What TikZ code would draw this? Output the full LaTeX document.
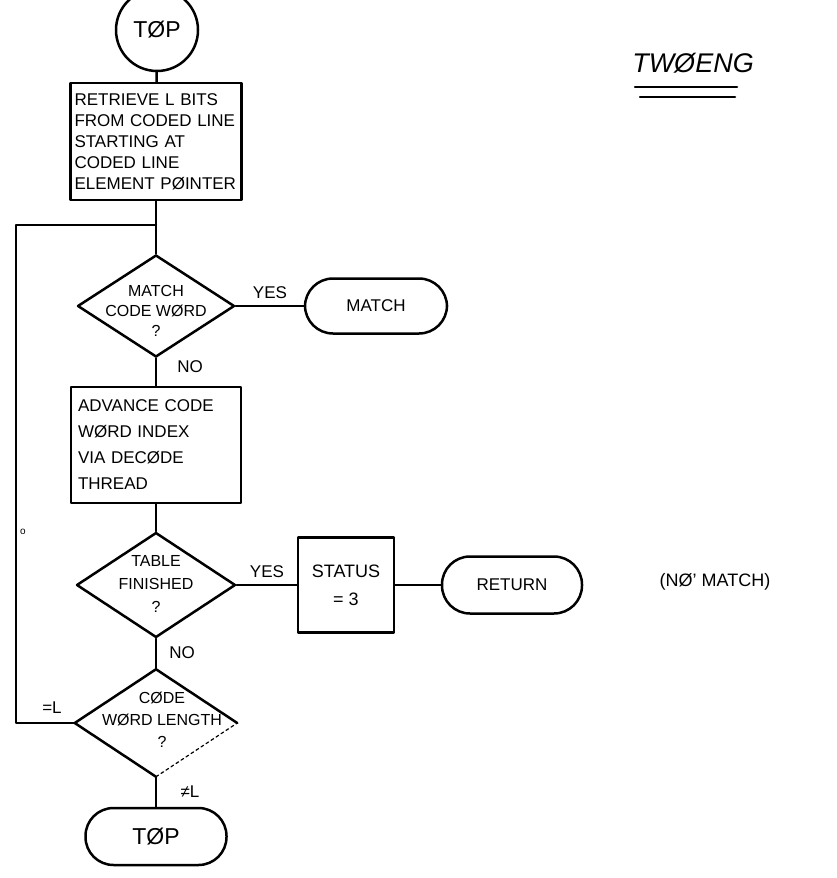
\documentclass[tikz,border=0pt]{standalone}
\usepackage{fontspec}
\setmainfont{Liberation Sans}
\usetikzlibrary{shapes.geometric}
\begin{document}
\begin{tikzpicture}[x=1pt,y=-1pt,
  line width=2.5pt, line join=round, line cap=round,
  box/.style={draw, rectangle, inner sep=0pt, font=\fontsize{17}{21}\selectfont},
  dia/.style={draw, diamond, inner sep=0pt},
  term/.style={draw, rectangle, rounded corners=28pt, minimum width=141pt, minimum height=57pt, font=\fontsize{17}{21}\selectfont},
  lbl/.style={font=\fontsize{17}{20}\selectfont, inner sep=0pt},
  dtext/.style={align=center, inner sep=0pt},
]
\useasboundingbox (0,0) rectangle (837,878);

% start connector
\node[draw, circle, minimum size=82pt, inner sep=0pt, font=\fontsize{23}{23}\selectfont] (top) at (157,30) {TØP};

% title
\node[font=\fontsize{27}{27}\selectfont\itshape, inner sep=0pt] (title) at (693,63) {TWØENG};
\draw (635,87) -- (737,87);
\draw (640,97) -- (735,97);

% box 1
\node[box, minimum width=171pt, minimum height=117pt, text width=163pt, align=left] (b1) at (156,141.5)
  {RETRIEVE L BITS\\FROM CODED LINE\\STARTING AT\\CODED LINE\\ELEMENT PØINTER};

% decision 1
\node[dia, minimum width=157pt, minimum height=102pt] (d1) at (156,306) {};
\node[dtext, font=\fontsize{16}{20}\selectfont] (d1t) at (156,311) {MATCH\\CODE WØRD\\?};
\node[term, minimum width=142pt, minimum height=55pt] (match) at (376,306) {MATCH};
\node[lbl] (yes1) at (270,293) {YES};
\node[lbl] (no1) at (190,367) {NO};

% box 2
\node[box, minimum width=170pt, minimum height=116pt, text width=156pt, align=left, font=\fontsize{17}{26}\selectfont] (b2) at (156,445)
  {ADVANCE CODE\\WØRD INDEX\\VIA DECØDE\\THREAD};

% decision 2
\node[dia, minimum width=159pt, minimum height=105pt] (d2) at (156,585) {};
\node[dtext, font=\fontsize{16}{23}\selectfont] (d2t) at (156,584) {TABLE\\FINISHED\\?};
\node[lbl] (yes2) at (267,572) {YES};
\node[lbl] (no2) at (182,653) {NO};

\node[box, minimum width=96pt, minimum height=95pt, align=center, font=\fontsize{18}{28}\selectfont] (b3) at (346,585) {STATUS\\= 3};
\node[term, minimum width=140pt, minimum height=57pt] (ret) at (512,585) {RETURN};
\node[lbl, font=\fontsize{18}{20}\selectfont] (nomatch) at (715,582) {(NØ' MATCH)};

% decision 3
\node[diamond, inner sep=0pt, minimum width=160pt, minimum height=105pt] (d3) at (156,723) {};
\draw (d3.east) -- (d3.north) -- (d3.west) -- (d3.south);
\draw[dashed, line width=1.2pt] (d3.south) -- (d3.east);
\node[dtext, font=\fontsize{16}{22}\selectfont] (d3t) at (162,720) {CØDE\\WØRD LENGTH\\?};
\node[lbl] (eqL) at (52,708) {=L};
\node[lbl] (neqL) at (190,792) {≠L};
\node[lbl, font=\fontsize{10}{10}\selectfont] (omark) at (23,532) {o};

% end terminal
\node[term, minimum width=141pt, minimum height=57pt, font=\fontsize{23}{23}\selectfont] (top2) at (156,836.5) {TØP};

% connectors
\coordinate (jn) at (156,225);
\coordinate (lc) at (16,225);
\draw (top) -- (b1);
\draw (b1) -- (jn) -- (d1.north);
\draw (d1.east) -- (match.west);
\draw (d1.south) -- (b2.north);
\draw (b2.south) -- (d2.north);
\draw (d2.east) -- (b3.west);
\draw (b3.east) -- (ret.west);
\draw (d2.south) -- (d3.north);
\draw (d3.south) -- (top2.north);
\draw (d3.west) -- (lc |- d3.west) -- (lc) -- (jn);
\end{tikzpicture}
\end{document}
